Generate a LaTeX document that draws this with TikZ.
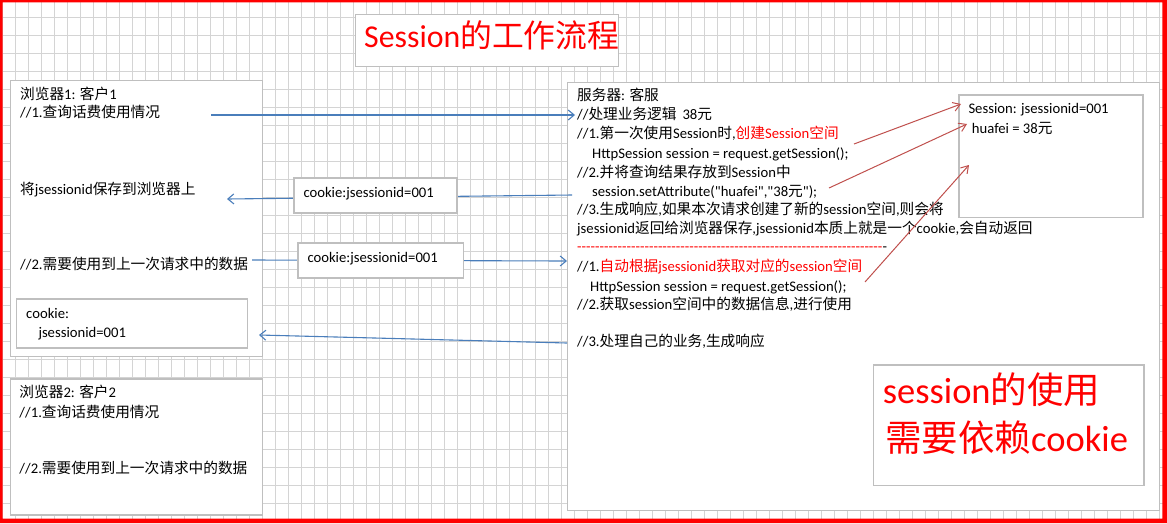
\documentclass[tikz,border=0pt]{standalone}
\usepackage{fontspec}
\setmainfont{Carlito}
\newfontfamily\latfont{Carlito}
\newfontfamily\cjkfont{Noto Sans CJK SC}
\usetikzlibrary{arrows.meta}
% automatic switch to the CJK font for CJK characters
\XeTeXinterchartokenstate=1
\newXeTeXintercharclass\CJKcls
\newcount\cjkcnt
\cjkcnt="2E80
\loop\XeTeXcharclass\cjkcnt=\CJKcls\advance\cjkcnt by 1 \ifnum\cjkcnt<"A000 \repeat
\cjkcnt="FF00
\loop\XeTeXcharclass\cjkcnt=\CJKcls\advance\cjkcnt by 1 \ifnum\cjkcnt<"FFF0 \repeat
\XeTeXinterchartoks 0 \CJKcls = {\cjkfont}
\XeTeXinterchartoks 4095 \CJKcls = {\cjkfont}
\XeTeXinterchartoks \CJKcls 0 = {\latfont}
\XeTeXinterchartoks \CJKcls 4095 = {\latfont}
\newcount\hycnt
\newcommand\hyphenrow[1]{\hycnt=0 \loop-\kern0pt\advance\hycnt by 1 \ifnum\hycnt<#1\repeat}
\definecolor{gridc}{HTML}{D4D4D4}
\definecolor{boxc}{HTML}{BFBFBF}
\definecolor{arrb}{HTML}{4A7EBB}
\definecolor{arrr}{HTML}{C0504D}
\tikzset{
  txt/.style={anchor=base west, inner sep=0pt, font=\latfont\fontsize{14.67}{17}\selectfont},
  bigtxt/.style={anchor=base west, inner sep=0pt, text=red, font=\latfont\fontsize{36.5}{40}\selectfont},
  box/.style={draw=boxc, line width=1.3pt, fill=white, inner sep=0pt, anchor=north west},
  barrow/.style={draw=arrb, line width=1.1pt, -{Straight Barb[length=6pt,width=10pt]}},
  rarrow/.style={draw=arrr, line width=1pt, -{Straight Barb[length=7pt,width=9pt]}},
}
\begin{document}
\begin{tikzpicture}[x=1pt,y=-1pt]
\useasboundingbox (0,0) rectangle (1167,523);
\fill[white] (0,0) rectangle (1167,523);
% spreadsheet grid
\foreach \i in {0,...,89} \draw[gridc, line width=1pt] ({2.3+13*\i},0) -- ({2.3+13*\i},523);
\foreach \j in {0,...,28} \draw[gridc, line width=1pt] (0,{17.3+18*\j}) -- (1167,{17.3+18*\j});

% boxes
\node[box, minimum width=263pt, minimum height=52pt] (titlebox) at (355,14) {};
\node[box, minimum width=252pt, minimum height=276pt] (client1) at (10,80) {};
\node[box, minimum width=231pt, minimum height=49pt] (cookiebox) at (16,298.3) {};
\node[box, minimum width=252pt, minimum height=136pt] (client2) at (9.5,378.3) {};
\node[box, minimum width=592pt, minimum height=428pt] (server) at (566.7,81.7) {};
\node[box, minimum width=184pt, minimum height=122.5pt] (sessionbox) at (958.3,94.3) {};
\node[box, minimum width=270.6pt, minimum height=120.7pt] (notebox) at (872.7,364.3) {};

% title
\node[anchor=base west, inner sep=0pt, text=red, font=\latfont\fontsize{31.8}{35}\selectfont] (title) at (364,47) {Session的工作流程};

% client 1
\node[txt] (c1a) at (20,99.8) {浏览器1: 客户1};
\node[txt] (c1b) at (20,117.8) {//1.查询话费使用情况};
\node[txt] (c1c) at (20,194.8) {将jsessionid保存到浏览器上};
\node[txt] (c1d) at (20,269.8) {//2.需要使用到上一次请求中的数据};
\node[txt] (c1e) at (26,318.2) {cookie:};
\node[txt] (c1f) at (38.3,337.2) {jsessionid=001};

% client 2
\node[txt] (c2a) at (19.3,397.8) {浏览器2: 客户2};
\node[txt] (c2b) at (19.3,417.8) {//1.查询话费使用情况};
\node[txt] (c2c) at (19.3,473.8) {//2.需要使用到上一次请求中的数据};

% server
\node[txt] (s1) at (577,100.5) {服务器: 客服};
\node[txt] (s2) at (577,119.8) {//处理业务逻辑\hspace{6pt}38元};
\node[txt] (s3) at (577,138.8) {//1.第一次使用Session时,{\color{red}创建Session空间}};
\node[txt] (s4) at (592,158.2) {HttpSession session = request.getSession();};
\node[txt] (s5) at (577,177.2) {//2.并将查询结果存放到Session中};
\node[txt] (s6) at (592,196.2) {session.setAttribute("huafei","38元");};
\node[txt] (s7) at (577,214.3) {//3.生成响应,如果本次请求创建了新的session空间,则会将};
\node[txt] (s8) at (577,233.8) {jsessionid返回给浏览器保存,jsessionid本质上就是一个cookie,会自动返回};
\node[txt] (s9) at (577,251.8) {{\color{red}\hyphenrow{68}}-};
\node[txt] (s10) at (577,271.2) {//1.{\color{red}自动根据jsessionid获取对应的session空间}};
\node[txt] (s11) at (590,291.2) {HttpSession session = request.getSession();};
\node[txt] (s12) at (577,309.5) {//2.获取session空间中的数据信息,进行使用};
\node[txt] (s13) at (577,346.2) {//3.处理自己的业务,生成响应};

% session store
\node[txt] (ss1) at (968.3,113.8) {Session: jsessionid=001};
\node[txt] (ss2) at (971.7,133.2) {huafei = 38元};

% note
\node[bigtxt] (n1) at (882.7,403.5) {session的使用};
\node[bigtxt] (n2) at (885,451.5) {需要依赖cookie};

% blue connectors
\coordinate (a1s) at (211,115);
\coordinate (a1e) at (575,115);
\draw[barrow] (a1s) -- (a1e);
\coordinate (a2s) at (572,195);
\coordinate (a2e) at (227,199);
\draw[barrow] (a2s) -- (a2e);
\coordinate (a3s) at (252,260);
\coordinate (a3e) at (567,261);
\draw[barrow] (a3s) -- (a3e);
\coordinate (a4s) at (567,343);
\coordinate (a4e) at (259,335);
\draw[barrow] (a4s) -- (a4e);

% cookie labels on connectors
\node[box, minimum width=163pt, minimum height=35pt] (ck1) at (293.3,177.3) {};
\node[txt] (ck1t) at (303.3,197.8) {cookie:jsessionid=001};
\node[box, minimum width=165.4pt, minimum height=35pt] (ck2) at (297.3,242.3) {};
\node[txt] (ck2t) at (307.3,262.2) {cookie:jsessionid=001};

% red connectors
\coordinate (r1s) at (854,144);
\coordinate (r1e) at (961,104);
\draw[rarrow] (r1s) -- (r1e);
\coordinate (r2s) at (829,188);
\coordinate (r2e) at (967,124);
\draw[rarrow] (r2s) -- (r2e);
\coordinate (r3s) at (865,282);
\coordinate (r3e) at (969,165);
\draw[rarrow] (r3s) -- (r3e);

% red frame
\fill[red, even odd rule] (0,0) rectangle (1167,523) (2.6,2.4) rectangle (1162.4,518.6);
\end{tikzpicture}
\end{document}
